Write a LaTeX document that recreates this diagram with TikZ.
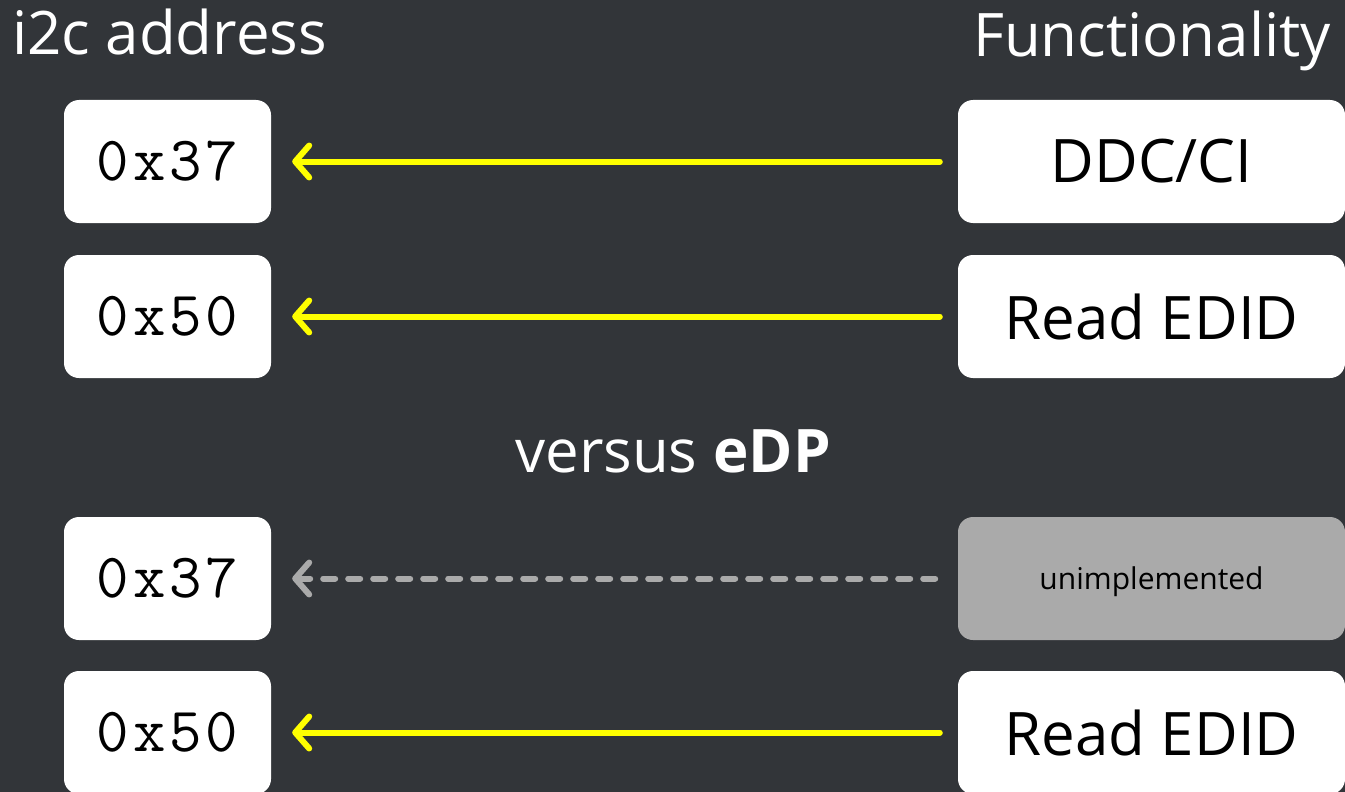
\documentclass[tikz,border=0pt]{standalone}
\usepackage{fontspec}
\setmainfont{Open Sans}
\usetikzlibrary{arrows.meta}
\definecolor{bg}{HTML}{323539}
\definecolor{grey}{HTML}{AAAAAA}
\definecolor{yel}{HTML}{FFFF00}
\newcommand\ls{\kern4pt}
\tikzset{
  addr/.style={fill=white, rounded corners=15pt, minimum width=207pt, minimum height=123pt, inner sep=0pt,
    font=\fontsize{63}{63}\ttfamily, text=black},
  func/.style={fill=white, rounded corners=15pt, minimum width=387pt, minimum height=123pt, inner sep=0pt,
    font=\fontsize{60}{60}\selectfont, text=black},
  unimpl/.style={func, fill=grey, font=\fontsize{30}{30}\selectfont, text height=29pt, text depth=7pt},
  hdr/.style={text=white, font=\fontsize{60}{60}\selectfont, inner sep=0pt},
  link/.style={yel, line width=6pt, line cap=round, {Straight Barb[length=14pt,width=32pt,round]}-},
  deadlink/.style={link, grey, dash pattern=on 12pt off 13pt},
}
\begin{document}
\begin{tikzpicture}[x=1pt,y=-1pt]
\fill[bg] (0,0) rectangle (1345,792);
\useasboundingbox (0,0) rectangle (1345,792);
\node[hdr, anchor=base west] (h1) at (12,55) {i2c address};
\node[hdr, anchor=base east] (h2) at (1331,57) {Functionality};
\node[hdr, anchor=base] (vs) at (673,472) {versus \textbf{eDP}};

\node[addr] (a1) at (167.5,161.5) {0\ls x\ls 3\ls 7};
\node[addr] (a2) at (167.5,316.5) {0\ls x\ls 5\ls 0};
\node[addr] (a3) at (167.5,578.5) {0\ls x\ls 3\ls 7};
\node[addr] (a4) at (167.5,732.5) {0\ls x\ls 5\ls 0};

\node[func] (f1) at (1151.5,161.5) {DDC/CI};
\node[func] (f2) at (1151.5,316.5) {Read EDID};
\node[unimpl] (f3) at (1151.5,578.5) {unimplemented};
\node[func] (f4) at (1151.5,732.5) {Read EDID};

\draw[link] ([xshift=21pt]a1.east) -- ([xshift=-18pt]f1.west);
\draw[link] ([xshift=21pt]a2.east) -- ([xshift=-18pt]f2.west);
\draw[deadlink] ([xshift=21pt]a3.east) -- ([xshift=-18pt]f3.west);
\draw[link] ([xshift=21pt]a4.east) -- ([xshift=-18pt]f4.west);
\end{tikzpicture}
\end{document}
